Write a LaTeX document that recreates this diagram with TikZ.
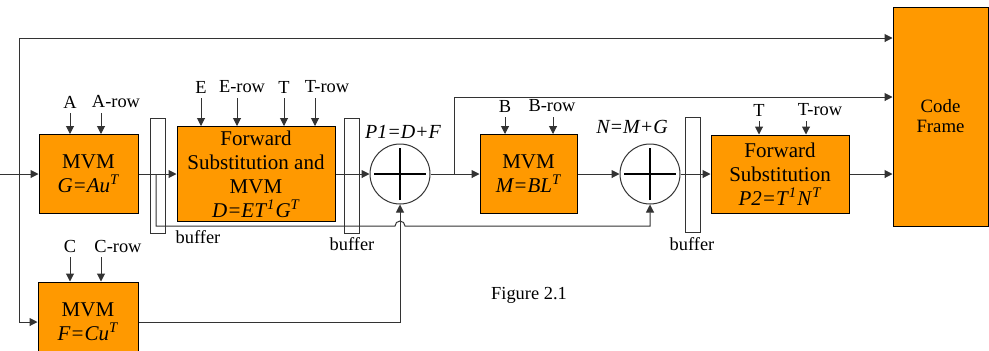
\documentclass[tikz,border=0pt]{standalone}
\usepackage{fontspec}
\setmainfont{Liberation Serif}
\usepackage{tikz}
\usetikzlibrary{shapes.geometric, arrows.meta, positioning}
\usepackage{xcolor}
\definecolor{codeorange}{RGB}{255,153,0}
\newcommand{\sptxt}[1]{\textsuperscript{\itshape #1}}

\begin{document}
\begin{tikzpicture}[
        x=0.5pt, y=-0.5pt,
        line width=0.5pt,
        % Style for the processing blocks
        procbox/.style={rectangle, draw=black, fill=codeorange, align=center, inner sep=0pt, font=\fontsize{10.5}{12}\selectfont},
        % Style for the buffers and the adders
        bufbox/.style={rectangle, draw=black!80, minimum width=7.5pt, minimum height=57.5pt, inner sep=0pt},
        adder/.style={circle, draw=black!80, minimum size=30pt, inner sep=0pt},
        lbl/.style={font=\fontsize{9.2}{11}\selectfont},
        arr/.style={draw=black!80, -{Triangle[length=4pt,width=4pt]}}
    ]
    \useasboundingbox (0,0) rectangle (989,350);

    % --- BLOCKS ---
    \node (mvmG) [procbox, minimum width=49.5pt, minimum height=39.5pt] at (88.5,174) {MVM \\ \textit{G=Au}\sptxt{T}};
    \node (fwdD) [procbox, minimum width=79pt, minimum height=47.5pt] at (256,174) {Forward \\ Substitution and \\ MVM \\ \textit{D=ET}\sptxt{1}\textit{G}\sptxt{T}};
    \node (mvmM) [procbox, minimum width=48.5pt, minimum height=39.5pt] at (528.5,174) {MVM \\ \textit{M=BL}\sptxt{T}};
    \node (fwdP) [procbox, minimum width=69pt, minimum height=39pt] at (780,174) {Forward \\ Substitution \\ \textit{P2=T}\sptxt{1}\textit{N}\sptxt{T}};
    \node (frame) [procbox, minimum width=47.5pt, minimum height=109.5pt, font=\fontsize{9.4}{10}\selectfont] at (940.5,116.5) {Code \\ Frame};
    \node (mvmF) [procbox, minimum width=50pt, minimum height=40pt] at (88,322) {MVM \\ \textit{F=Cu}\sptxt{T}};

    % --- BUFFERS AND ADDERS ---
    \node (buf1) [bufbox] at (157.5,175.5) {};
    \node (buf2) [bufbox] at (352,175.5) {};
    \node (buf3) [bufbox] at (692.5,175) {};
    \node [lbl] at (198,237) {buffer};
    \node [lbl] at (352,244) {buffer};
    \node [lbl] at (692,244) {buffer};

    \node (addP) [adder] at (400,174) {};
    \node (addN) [adder] at (650,174) {};
    \foreach \a in {addP, addN} {
        \draw[line width=1pt] ([xshift=-13pt]\a.center) -- ([xshift=13pt]\a.center);
        \draw[line width=1pt] ([yshift=-13pt]\a.center) -- ([yshift=13pt]\a.center);
    }
    \node [lbl, font=\fontsize{10}{12}\selectfont\itshape] at (403,132) {P1=D+F};
    \node [lbl, font=\fontsize{10}{12}\selectfont\itshape] at (632,127) {N=M+G};

    % --- INPUT LABELS (label centre, arrow x) ---
    \foreach \nm/\lx/\ax/\yy/\txt/\tgt in {inA/70/70/102/A/mvmG, inArow/116/101/102/A-row/mvmG,
            inE/201/201/87/E/fwdD, inErow/242/237/87/E-row/fwdD, inT/284/284/87/T/fwdD, inTrow/327/315/87/T-row/fwdD,
            inB/505/505/106/B/mvmM, inBrow/552/553/106/B-row/mvmM,
            inTT/759/759/110/T/fwdP, inTTrow/820/806/110/T-row/fwdP,
            inC/70/70/246/C/mvmF, inCrow/118/101/246/C-row/mvmF} {
        \node (\nm) [lbl] at (\lx,\yy) {\txt};
        \draw[arr] (\ax,\yy) ++(0,11) -- (\ax,\yy |- \tgt.north);
    }

    % --- CONNECTORS ---
    \coordinate (src) at (0,174);
    \coordinate (top) at (19,38);
    \coordinate (j1) at (156,174);
    \coordinate (j2) at (454,174);
    \coordinate (k2) at (454,97);
    \coordinate (hopL) at (395,226);

    \draw[arr] (src) -- (mvmG);
    \draw[arr] (top) |- (mvmF.west);
    \draw[arr] (top) -- (top -| frame.west);
    \draw[arr] (mvmG) -- (fwdD);
    \draw[arr] (fwdD) -- (addP);
    \draw[arr] (addP) -- (mvmM);
    \draw[arr] (mvmM) -- (addN);
    \draw[arr] (addN) -- (fwdP);
    \draw[arr] (fwdP) -- (fwdP -| frame.west);
    \draw[arr] (j2) -- (k2) -- (k2 -| frame.west);
    \draw[arr] (mvmF.east) -| (addP.south);
    \draw[arr] (j1) |- (hopL) arc[start angle=180, end angle=0, radius=2.5pt] -| (addN.south);

    \node [lbl] at (529,295) {Figure 2.1};
\end{tikzpicture}
\end{document}
